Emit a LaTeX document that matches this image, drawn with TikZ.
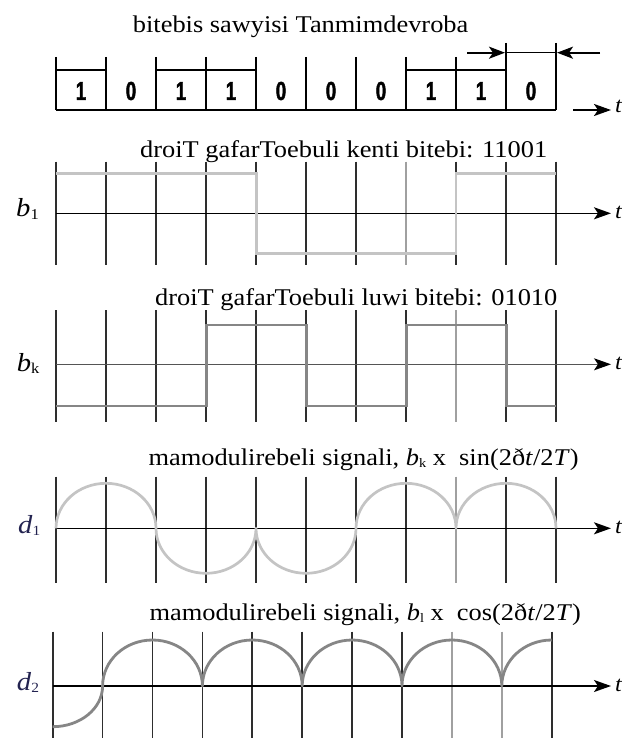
\documentclass[tikz,border=0pt]{standalone}
\usepackage{fontspec}
\setmainfont{Liberation Serif}[FakeStretch=1.1]
\newfontfamily\bitfont{Liberation Sans Bold}[FakeStretch=0.72,FakeBold=1.6]
\usetikzlibrary{arrows.meta}

\definecolor{gridc}{HTML}{2E2E2E}
\definecolor{gridlight}{HTML}{A0A0A0}
\definecolor{wavelight}{HTML}{C4C4C4}
\definecolor{wavedark}{HTML}{868686}
\definecolor{axisgray}{HTML}{555555}
\definecolor{labnavy}{RGB}{35,35,80}

% lowered small subscript: optional size, text
\newcommand\lowsub[2][13]{\raisebox{-2.5pt}{\fontsize{#1}{#1}\selectfont #2}}

\tikzset{
  thinline/.style={line width=1.2pt, black},
  thickline/.style={line width=2.6pt, black, line join=miter},
  gridline/.style={line width=1.7pt, gridc},
  gridfaint/.style={line width=1.7pt, gridlight},
  tip/.style={-{Stealth[length=17pt,width=12pt,inset=4pt,black]}},
  axisline/.style={line width=1.6pt, black, tip},
  axisthin/.style={line width=1.1pt, axisgray, tip},
  wavelite/.style={line width=2.7pt, wavelight, line join=miter},
  wavedeep/.style={line width=2.8pt, wavedark, line join=miter},
  title/.style={anchor=base west, inner sep=0pt, font=\fontsize{24}{28}\selectfont},
  axlab/.style={anchor=base west, inner sep=0pt, font=\fontsize{26}{30}\selectfont},
  tlab/.style={anchor=base west, inner sep=0pt, font=\fontsize{22}{26}\selectfont\itshape},
  bitlab/.style={inner sep=0pt, font=\bitfont\fontsize{26}{28}\selectfont},
}

\begin{document}
\begin{tikzpicture}[x=1pt,y=-1pt]
\useasboundingbox (0,0) rectangle (621,738);
\fill[white] (0,0) rectangle (621,738);

% ---------------- original bit sequence ----------------
\node[title] (ttop) at (132.7,33) {bitebis sawyisi Tanmimdevroba};
\foreach \k in {0,...,8}
  \draw[thinline] ({56+50*\k},57) -- ({56+50*\k},110);
\draw[thinline] (506,43) -- (506,110);
\draw[thinline] (556,43) -- (556,110);
\draw[thinline] (56,110) -- (556,110);
\draw[thickline] (56,110) -- (56,70) -- (106,70) -- (106,110) -- (156,110)
  -- (156,70) -- (256,70) -- (256,110) -- (406,110) -- (406,70) -- (506,70)
  -- (506,110) -- (556,110);
\foreach \b [count=\i from 0] in {1,0,1,1,0,0,0,1,1,0}
  \node[bitlab] (bit\i) at ({81+50*\i},91) {\b};
% bit period marker
\coordinate (pl) at (506,52.7);
\coordinate (pr) at (556,52.7);
\coordinate (pla) at (467,52.7);
\coordinate (pra) at (600,52.7);
\draw[thinline] (pl) -- (pr);
\draw[line width=2.2pt, -{Stealth[length=16pt,width=12pt,inset=4pt]}] (pla) -- ([xshift=-1pt]pl);
\draw[line width=2.2pt, -{Stealth[length=16pt,width=12pt,inset=4pt]}] (pra) -- ([xshift=1pt]pr);
\node[tlab] (t0) at (615,113) {t};
\coordinate (a0s) at (573,110);
\draw[line width=2.2pt, tip] (a0s) -- ([xshift=-4pt]t0.base west |- a0s);

% ---------------- odd bits b1 ----------------
\node[title] (tb1) at (140,158) {droiT gafarToebuli kenti bitebi: 11001};
\node[axlab] (lb1) at (16,216.7) {\textit{b}\lowsub[15]{1}};
\foreach \k in {0,...,6,8,9,10}
  \draw[gridline] ({56+50*\k},161.7) -- ({56+50*\k},265);
\draw[gridfaint] (406,161.7) -- (406,265);
\coordinate (a1s) at (56,213.3);
\node[tlab] (t1) at (615,218) {t};
\draw[axisline] (a1s) -- ([xshift=-4pt]t1.base west |- a1s);
\draw[wavelite] (56,173.3) -- (256.7,173.3) -- (256.7,253.3) -- (456,253.3)
  -- (456,173.3) -- (556,173.3);

% ---------------- even bits bk ----------------
\node[title] (tbk) at (155,305) {droiT gafarToebuli luwi bitebi: 01010};
\node[axlab] (lbk) at (16.7,371) {\textit{b}\lowsub[15]{k}};
\foreach \k in {0,...,7,9,10}
  \draw[gridline] ({56+50*\k},310) -- ({56+50*\k},421.7);
\draw[gridfaint] (456,310) -- (456,421.7);
\coordinate (a2s) at (56,364.3);
\node[tlab] (t2) at (615,369) {t};
\draw[axisthin] (a2s) -- ([xshift=-4pt]t2.base west |- a2s);
\draw[wavedeep] (56,406) -- (206.7,406) -- (206.7,325) -- (306.7,325)
  -- (306.7,406) -- (406.7,406) -- (406.7,325) -- (506.7,325) -- (506.7,406)
  -- (556,406);

% ---------------- modulated signal d1 ----------------
\node[title] (td1) at (148.3,465) {mamodulirebeli signali, \textit{b}\lowsub{k} x~ sin(2ð\textit{t}/2\textit{T})};
\node[axlab, text=labnavy] (ld1) at (18,533.3) {\textit{d}\lowsub[14]{1}};
\foreach \k in {0,...,7,9,10}
  \draw[gridline] ({56+50*\k},476.7) -- ({56+50*\k},583);
\draw[gridfaint] (456,476.7) -- (456,583);
\coordinate (a3s) at (56,528.3);
\node[tlab] (t3) at (615,533) {t};
\draw[axisline] (a3s) -- ([xshift=-4pt]t3.base west |- a3s);
\draw[wavelite, line join=round] (56,528.3)
  arc[start angle=180, end angle=360, x radius=50, y radius=45]
  arc[start angle=180, end angle=0, x radius=50, y radius=45]
  arc[start angle=180, end angle=0, x radius=50, y radius=45]
  arc[start angle=180, end angle=360, x radius=50, y radius=45]
  arc[start angle=180, end angle=360, x radius=50, y radius=45];

% ---------------- modulated signal d2 ----------------
\node[title] (td2) at (149.3,620) {mamodulirebeli signali, \textit{b}\lowsub{l} x~ cos(2ð\textit{t}/2\textit{T})};
\node[axlab, text=labnavy] (ld2) at (16.7,690) {\textit{d}\lowsub[14]{2}};
\foreach \k in {0,...,7,10}
  \draw[gridline] ({52.7+49.9*\k},631.7) -- ({52.7+49.9*\k},738);
\foreach \k in {8,9}
  \draw[gridfaint] ({52.7+49.9*\k},631.7) -- ({52.7+49.9*\k},738);
\coordinate (a4s) at (52.7,686);
\node[tlab] (t4) at (615,691) {t};
\draw[axisline] (a4s) -- ([xshift=-4pt]t4.base west |- a4s);
\draw[wavedeep, line join=round] (52.7,726.7)
  arc[start angle=90, end angle=0, x radius=49.9, y radius=40.7]
  arc[start angle=180, end angle=360, x radius=49.9, y radius=46]
  arc[start angle=180, end angle=360, x radius=49.9, y radius=46]
  arc[start angle=180, end angle=360, x radius=49.9, y radius=46]
  arc[start angle=180, end angle=360, x radius=49.9, y radius=46]
  arc[start angle=180, end angle=270, x radius=49.9, y radius=46];
\end{tikzpicture}
\end{document}
